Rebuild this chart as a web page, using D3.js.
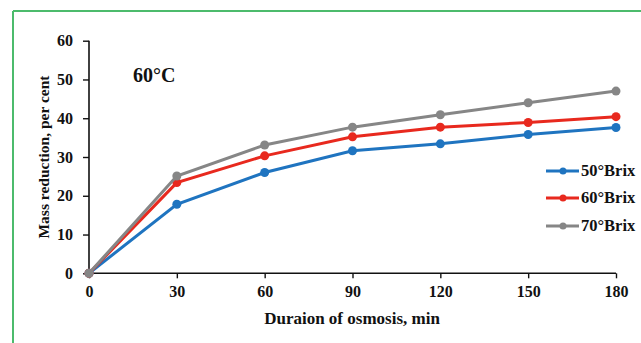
<!DOCTYPE html>
<html><head><meta charset="utf-8">
<script src="https://cdn.jsdelivr.net/npm/d3@7"></script>
<style>body{margin:0;background:#fff}svg{display:block}text{font-family:"Liberation Serif","Times New Roman",serif;font-weight:bold;fill:#111}</style>
</head><body>
<script>
const minutes = [0, 30, 60, 90, 120, 150, 180];
const brix50 = [0, 17.8, 26.0, 31.6, 33.4, 35.8, 37.6];
const brix60 = [0, 23.4, 30.3, 35.2, 37.7, 38.9, 40.4];
const brix70 = [0, 25.1, 33.1, 37.7, 40.9, 44.0, 47.0];
const seriesNames = ["50°Brix", "60°Brix", "70°Brix"];
const seriesColors = ["#1f74c0", "#e8291e", "#868686"];
const xTicks = [0, 30, 60, 90, 120, 150, 180];
const yTicks = [0, 10, 20, 30, 40, 50, 60];

const W = 641, H = 343;
const svg = d3.select("body").append("svg").attr("width", W).attr("height", H);

// green frame (top & left)
svg.append("line").attr("x1", 13).attr("x2", W).attr("y1", 11).attr("y2", 11).attr("stroke", "#4cbb6c").attr("stroke-width", 2);
svg.append("line").attr("x1", 13).attr("x2", 13).attr("y1", 11).attr("y2", H).attr("stroke", "#4cbb6c").attr("stroke-width", 2);

const x = d3.scaleLinear().domain([0, 180]).range([89, 616]);
const y = d3.scaleLinear().domain([0, 60]).range([273.3, 40.7]);

const xAxis = svg.append("g").attr("transform", "translate(0,273.3)")
  .call(d3.axisBottom(x).tickValues(xTicks).tickSize(5).tickPadding(7));
const yAxis = svg.append("g").attr("transform", "translate(89,0)")
  .call(d3.axisLeft(y).tickValues(yTicks).tickSize(6).tickPadding(10));
[xAxis, yAxis].forEach(g => {
  g.select(".domain").attr("stroke", "#111").attr("stroke-width", 1.6);
  g.selectAll(".tick line").attr("stroke", "#111").attr("stroke-width", 1.4);
  g.selectAll(".tick text").attr("font-size", 16).attr("font-family", "Liberation Serif").attr("font-weight", "bold").attr("fill", "#111");
});
xAxis.select(".domain").attr("d", "M89,0H616");
yAxis.select(".domain").attr("d", "M0,273.3V40.7");

const all = [brix50, brix60, brix70];
const line = d3.line().x((d, i) => x(minutes[i])).y(d => y(d));
all.forEach((vals, k) => {
  svg.append("path").datum(vals).attr("d", line).attr("fill", "none")
    .attr("stroke", seriesColors[k]).attr("stroke-width", 3);
  svg.selectAll(null).data(vals).enter().append("circle")
    .attr("cx", (d, i) => x(minutes[i])).attr("cy", d => y(d)).attr("r", 4.5)
    .attr("fill", seriesColors[k]);
});

// legend
const legY = [171, 198, 226];
seriesNames.forEach((n, k) => {
  svg.append("line").attr("x1", 546).attr("x2", 579).attr("y1", legY[k]).attr("y2", legY[k])
    .attr("stroke", seriesColors[k]).attr("stroke-width", 3);
  svg.append("circle").attr("cx", 563).attr("cy", legY[k]).attr("r", 3.5).attr("fill", seriesColors[k]);
  svg.append("text").attr("x", 581).attr("y", legY[k] + 5).attr("font-size", 16.5).text(n);
});

svg.append("text").attr("x", 133).attr("y", 82).attr("font-size", 20).text("60°C");
svg.append("text").attr("x", 352).attr("y", 324).attr("text-anchor", "middle").attr("font-size", 17).text("Duraion of osmosis, min");
svg.append("text").attr("transform", "translate(49,157) rotate(-90)").attr("text-anchor", "middle").attr("font-size", 15.5).text("Mass reduction, per cent");
</script>
</body></html>
